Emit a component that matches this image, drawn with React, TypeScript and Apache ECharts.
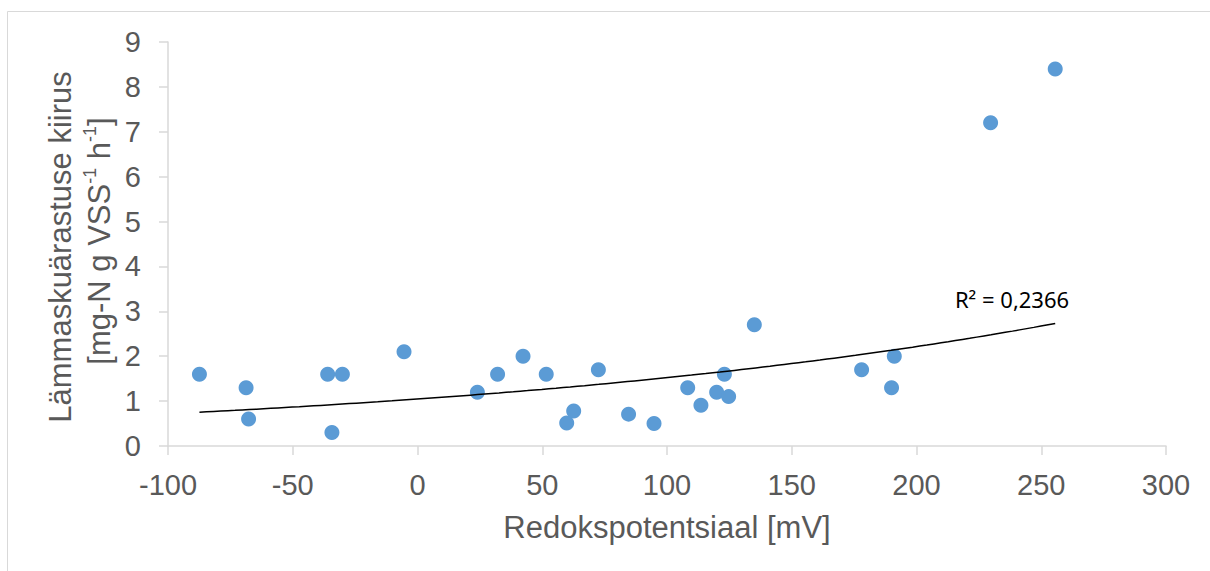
import React, { useEffect, useRef } from "react";
import * as echarts from "echarts";

const redoxX: number[] = [
  -87.4, -68.7, -67.7, -36, -30.1, -34.3, -5.4, 24, 32.1, 42.3, 51.6, 59.8, 62.6, 72.5,
  84.6, 94.8, 108.3, 113.6, 119.9, 123, 124.7, 135, 178, 191.1, 190, 229.7, 255.6,
];
const rateY: number[] = [
  1.6, 1.3, 0.6, 1.6, 1.6, 0.3, 2.1, 1.2, 1.6, 2.0, 1.6, 0.51, 0.78, 1.7,
  0.71, 0.5, 1.3, 0.91, 1.2, 1.6, 1.1, 2.7, 1.7, 2.0, 1.3, 7.2, 8.4,
];
const xTicks = { min: -100, max: 300, interval: 50 };
const yTicks = { min: 0, max: 9, interval: 1 };
const r2Label = "R² = 0,2366";
const xTitle = "Redokspotentsiaal [mV]";
const yTitle1 = "Lämmaskuärastuse kiirus";

function expFit(xs: number[], ys: number[]) {
  const n = xs.length;
  const ly = ys.map((v) => Math.log(v));
  const mx = xs.reduce((s, v) => s + v, 0) / n;
  const my = ly.reduce((s, v) => s + v, 0) / n;
  let sxy = 0, sxx = 0;
  for (let i = 0; i < n; i++) {
    sxy += (xs[i] - mx) * (ly[i] - my);
    sxx += (xs[i] - mx) * (xs[i] - mx);
  }
  const b = sxy / sxx;
  const a = Math.exp(my - b * mx);
  return { a, b };
}

export default function App() {
  const ref = useRef<HTMLDivElement>(null);
  useEffect(() => {
    if (!ref.current) return;
    const chart = echarts.init(ref.current, null, { renderer: "svg" });
    const { a, b } = expFit(redoxX, rateY);
    const x0 = Math.min(...redoxX);
    const x1 = Math.max(...redoxX);
    const trend: number[][] = [];
    const steps = 120;
    for (let i = 0; i <= steps; i++) {
      const x = x0 + ((x1 - x0) * i) / steps;
      trend.push([x, a * Math.exp(b * x)]);
    }
    const axisGray = "#d9d9d9";
    const textGray = "#595959";
    const font = "'Liberation Sans', Arial, sans-serif";
    chart.setOption({
      animation: false,
      grid: { left: 168, right: 44, top: 42, bottom: 125, containLabel: false, outerBoundsMode: "none" },
      xAxis: {
        type: "value",
        min: xTicks.min,
        max: xTicks.max,
        interval: xTicks.interval,
        axisLine: { show: true, onZero: false, lineStyle: { color: axisGray, width: 1.5 } },
        axisTick: { show: true, inside: false, length: 9, lineStyle: { color: axisGray, width: 1.5 } },
        splitLine: { show: false },
        axisLabel: { color: textGray, fontSize: 29, fontFamily: font, margin: 24 },
      },
      yAxis: {
        type: "value",
        min: yTicks.min,
        max: yTicks.max,
        interval: yTicks.interval,
        axisLine: { show: true, onZero: false, lineStyle: { color: axisGray, width: 1.5 } },
        axisTick: { show: true, inside: false, length: 9, lineStyle: { color: axisGray, width: 1.5 } },
        splitLine: { show: false },
        axisLabel: { color: textGray, fontSize: 29, fontFamily: font, margin: 27 },
      },
      series: [
        {
          type: "line",
          data: trend,
          showSymbol: false,
          symbol: "none",
          smooth: false,
          lineStyle: { color: "#000000", width: 1.5 },
          z: 3,
          silent: true,
        },
        {
          type: "scatter",
          data: redoxX.map((x, i) => [x, rateY[i]]),
          symbol: "circle",
          symbolSize: 15,
          itemStyle: { color: "#5b9bd5", opacity: 1 },
          z: 2,
        },
      ],
      graphic: [
        {
          type: "rect",
          shape: { x: 7.5, y: 11.5, width: 1400, height: 800 },
          style: { fill: "none", stroke: "#d9d9d9", lineWidth: 1 },
          silent: true,
        },
        {
          type: "text",
          x: 667,
          y: 527,
          style: { text: xTitle, fill: textGray, fontSize: 31, fontFamily: font, align: "center", verticalAlign: "middle" },
        },
        {
          type: "text",
          x: 60,
          y: 247,
          rotation: Math.PI / 2,
          style: { text: yTitle1, fill: textGray, fontSize: 31, fontFamily: font, align: "center", verticalAlign: "middle" },
        },
        {
          type: "text",
          x: 98,
          y: 241,
          rotation: Math.PI / 2,
          style: {
            text: "{a|[mg-N g VSS}{s|-1}{a| h}{s|-1}{a|]}",
            align: "center",
            verticalAlign: "middle",
            rich: {
              a: { fill: textGray, fontSize: 31, fontFamily: font, lineHeight: 34, verticalAlign: "bottom" },
              s: { fill: textGray, fontSize: 18, fontFamily: font, lineHeight: 18, verticalAlign: "top" },
            },
          },
        },
        {
          type: "text",
          x: 1012,
          y: 299,
          style: { text: r2Label, fill: "#000000", fontSize: 22, fontFamily: "'Noto Sans', sans-serif", align: "center", verticalAlign: "middle" },
        },
      ],
    });
    return () => chart.dispose();
  }, []);
  return (
    <div
      ref={ref}
      style={{ position: "absolute", left: 0, top: 0, width: 1210, height: 571, background: "#ffffff" }}
    />
  );
}
